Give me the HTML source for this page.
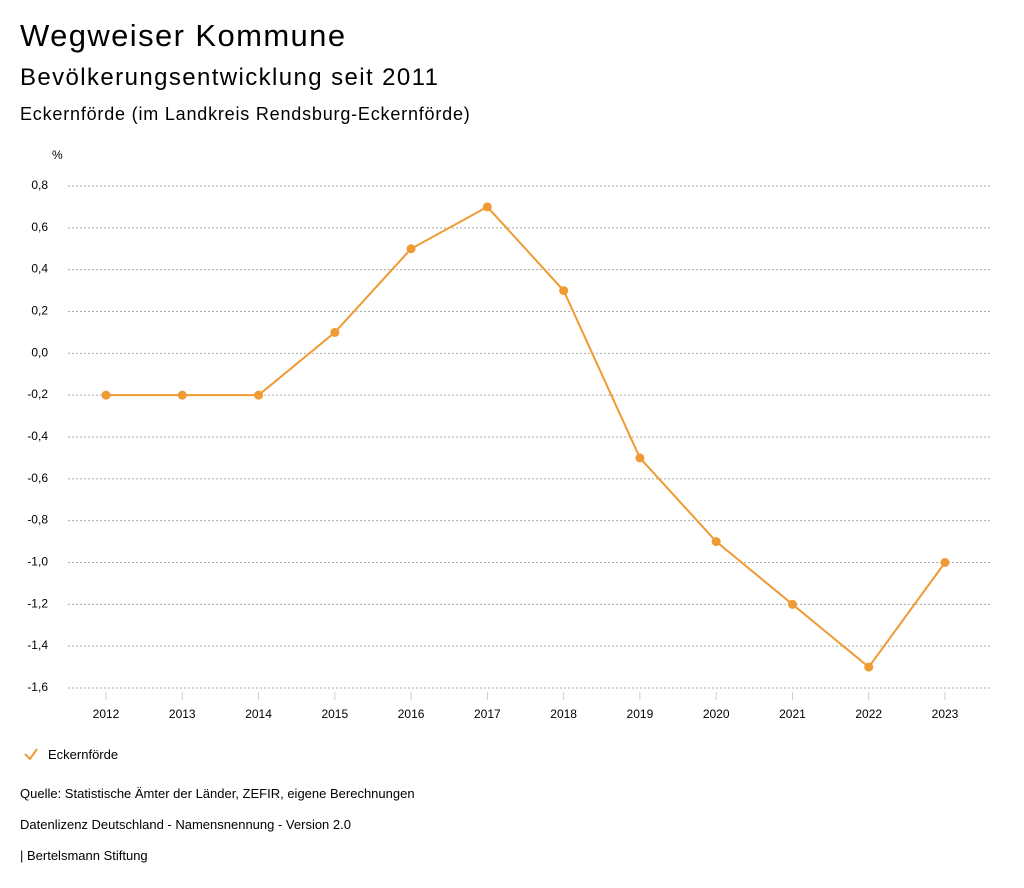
<!DOCTYPE html>
<html><head><meta charset="utf-8"><style>
body{margin:0;background:#fff;width:1024px;height:888px;overflow:hidden;font-family:"Liberation Sans",sans-serif;color:#000}
.t{position:absolute;left:20px;white-space:nowrap}
</style></head><body>
<div class="t" style="top:18px;font-size:31px;letter-spacing:1.4px">Wegweiser Kommune</div>
<div class="t" style="top:64px;font-size:24px;letter-spacing:1.4px">Bevölkerungsentwicklung seit 2011</div>
<div class="t" style="top:104px;font-size:18px;letter-spacing:0.8px">Eckernförde (im Landkreis Rendsburg-Eckernförde)</div>
<svg id="c" width="1024" height="888" style="position:absolute;left:0;top:0"></svg>
<div class="t" style="top:786px;font-size:13px">Quelle: Statistische Ämter der Länder, ZEFIR, eigene Berechnungen</div>
<div class="t" style="top:817px;font-size:13px">Datenlizenz Deutschland - Namensnennung - Version 2.0</div>
<div class="t" style="top:848px;font-size:13px">| Bertelsmann Stiftung</div>
<script>
const years=["2012","2013","2014","2015","2016","2017","2018","2019","2020","2021","2022","2023"];
const values=[-0.2,-0.2,-0.2,0.1,0.5,0.7,0.3,-0.5,-0.9,-1.2,-1.5,-1.0];
const yTicks=[0.8,0.6,0.4,0.2,0,-0.2,-0.4,-0.6,-0.8,-1.0,-1.2,-1.4,-1.6];
const NS="http://www.w3.org/2000/svg",svg=document.getElementById('c');
const color="#ef9a33";
function y(v){return 186+(0.8-v)/2.4*502;}
function x(i){return 106+i*(945-106)/(years.length-1);}
function el(t,a,txt){const e=document.createElementNS(NS,t);for(const k in a)e.setAttribute(k,a[k]);if(txt!==undefined)e.textContent=txt;svg.appendChild(e);return e;}
const u=el('text',{x:52,y:159,'font-size':12,'font-family':'Liberation Sans,sans-serif'},'%');


yTicks.forEach(v=>{
  const g=el('line',{x1:68,x2:990,y1:y(v),y2:y(v),stroke:'#aaa','stroke-dasharray':'2,2','stroke-width':1});
  
  
  const t=el('text',{x:48,y:y(v)+3,'font-size':12,'text-anchor':'end','font-family':'Liberation Sans,sans-serif'},v.toFixed(1).replace('.',','));
  
  
});
years.forEach((yr,i)=>{
  const tk=el('line',{x1:x(i),x2:x(i),y1:692,y2:700,stroke:'#ccc'});
  
  
  const t=el('text',{x:x(i),y:718,'font-size':12,'text-anchor':'middle','font-family':'Liberation Sans,sans-serif'},yr);
  
  
});
const line=el('polyline',{points:values.map((v,i)=>x(i)+','+y(v)).join(' '),fill:'none',stroke:color,'stroke-width':2});


values.forEach((v,i)=>{
  const c=el('circle',{cx:x(i),cy:y(v),r:4.5,fill:color});
  
  
});
const lg=el('path',{d:'M25 754 L30 759 L37 749',fill:'none',stroke:color,'stroke-width':2});


const lt=el('text',{x:48,y:759,'font-size':13,'font-family':'Liberation Sans,sans-serif'},'Eckernförde');


</script>
</body></html>
